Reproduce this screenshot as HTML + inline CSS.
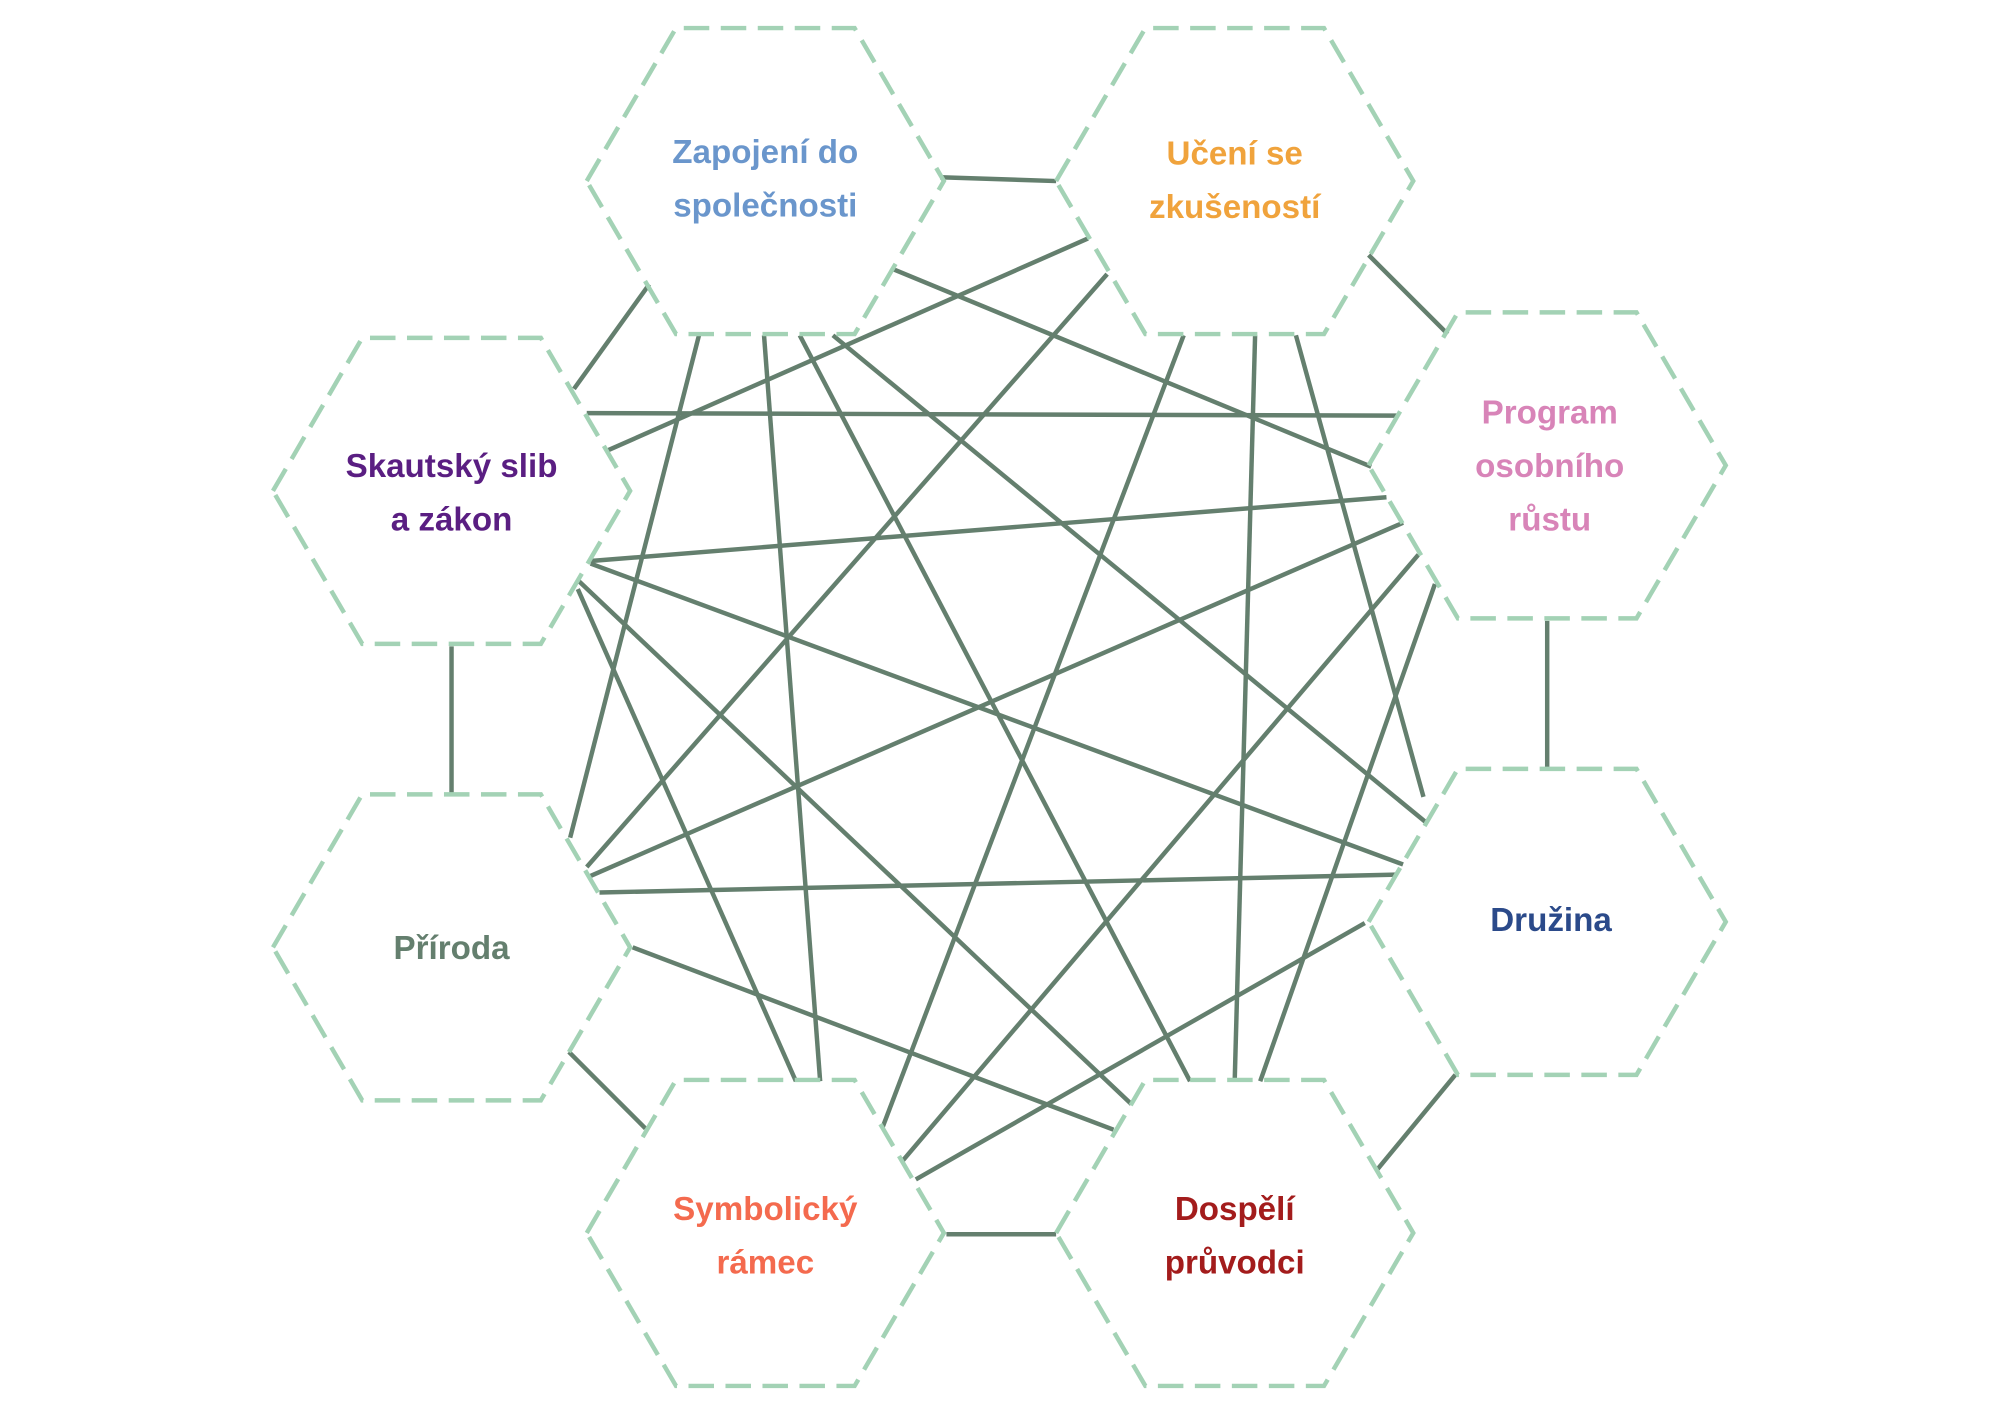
<!DOCTYPE html>
<html><head><meta charset="utf-8"><style>
html,body{margin:0;padding:0;background:#fff;}
svg{display:block;}
text{font-family:"Liberation Sans",sans-serif;font-weight:bold;font-size:26px;text-anchor:middle;}
</style></head><body>
<svg width="2000" height="1414" viewBox="0 0 1568 1109" preserveAspectRatio="none" xmlns="http://www.w3.org/2000/svg">
<g stroke="#647f6e" stroke-width="3.5" fill="none">
<line x1="737" y1="139" x2="828" y2="142"/>
<line x1="1073" y1="200" x2="1135" y2="262"/>
<line x1="1213" y1="487" x2="1213" y2="602"/>
<line x1="1141" y1="843" x2="1080" y2="917"/>
<line x1="742" y1="968" x2="828" y2="968"/>
<line x1="446" y1="825" x2="506" y2="885"/>
<line x1="354" y1="507" x2="354" y2="622"/>
<line x1="450" y1="305" x2="509" y2="223"/>
<line x1="460" y1="324" x2="1095" y2="326"/>
<line x1="477" y1="353" x2="853" y2="187"/>
<line x1="463" y1="440" x2="1087" y2="390"/>
<line x1="463" y1="442" x2="1100" y2="678"/>
<line x1="453" y1="455" x2="887" y2="866"/>
<line x1="453" y1="462" x2="624" y2="848"/>
<line x1="700" y1="211" x2="1075" y2="366"/>
<line x1="548" y1="263" x2="447" y2="657"/>
<line x1="599" y1="263" x2="643" y2="848"/>
<line x1="627" y1="263" x2="933" y2="848"/>
<line x1="653" y1="263" x2="1118" y2="645"/>
<line x1="868" y1="215" x2="460" y2="680"/>
<line x1="928" y1="263" x2="692" y2="884"/>
<line x1="984" y1="263" x2="968" y2="848"/>
<line x1="1016" y1="263" x2="1116" y2="625"/>
<line x1="1100" y1="410" x2="463" y2="687"/>
<line x1="1112" y1="435" x2="708" y2="910"/>
<line x1="1125" y1="458" x2="988" y2="848"/>
<line x1="470" y1="700" x2="1095" y2="686"/>
<line x1="496" y1="743" x2="873" y2="886"/>
<line x1="1070" y1="724" x2="718" y2="925"/>
</g>
<g stroke="#a3d2b5" stroke-width="3.5" fill="none" stroke-dasharray="20 9">
<polygon points="460,142 530,22 670,22 740,142 670,262 530,262"/>
<polygon points="828,142 898,22 1038,22 1108,142 1038,262 898,262"/>
<polygon points="1073,365 1143,245 1283,245 1353,365 1283,485 1143,485"/>
<polygon points="1073,723 1143,603 1283,603 1353,723 1283,843 1143,843"/>
<polygon points="828,967 898,847 1038,847 1108,967 1038,1087 898,1087"/>
<polygon points="460,967 530,847 670,847 740,967 670,1087 530,1087"/>
<polygon points="214,743 284,623 424,623 494,743 424,863 284,863"/>
<polygon points="214,385 284,265 424,265 494,385 424,505 284,505"/>
</g>
<text x="600" y="128" fill="#6a96cc">Zapojení do</text>
<text x="600" y="170" fill="#6a96cc">společnosti</text>
<text x="968" y="129" fill="#f0a33c">Učení se</text>
<text x="968" y="171" fill="#f0a33c">zkušeností</text>
<text x="1215" y="332" fill="#d884b8">Program</text>
<text x="1215" y="374" fill="#d884b8">osobního</text>
<text x="1215" y="416" fill="#d884b8">růstu</text>
<text x="1216" y="730" fill="#2b4a8a">Družina</text>
<text x="968" y="957" fill="#a31c1c">Dospělí</text>
<text x="968" y="999" fill="#a31c1c">průvodci</text>
<text x="600" y="957" fill="#f46a4e">Symbolický</text>
<text x="600" y="999" fill="#f46a4e">rámec</text>
<text x="354" y="752" fill="#647f6e">Příroda</text>
<text x="354" y="374" fill="#5a1e82">Skautský slib</text>
<text x="354" y="416" fill="#5a1e82">a zákon</text>
</svg>
</body></html>
